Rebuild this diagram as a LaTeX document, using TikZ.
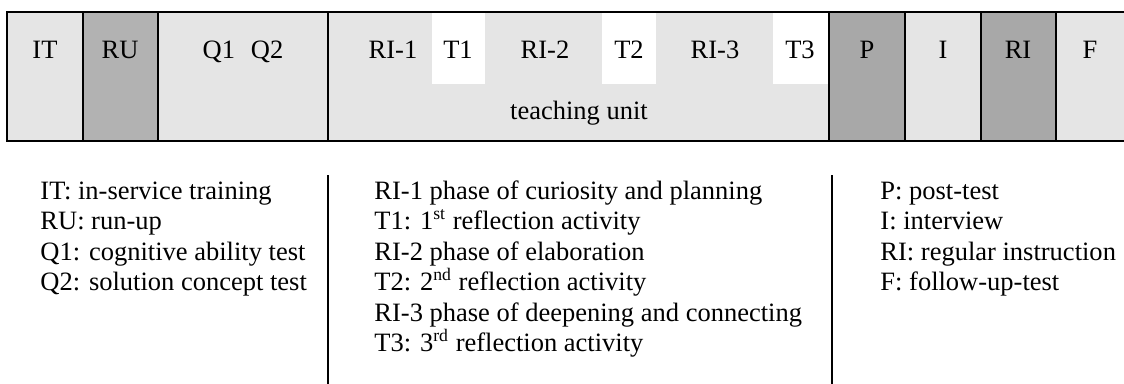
\documentclass[tikz,border=0pt]{standalone}
\usepackage{fontspec}
\setmainfont{Liberation Serif}

\definecolor{lightcell}{gray}{0.90}
\definecolor{rucell}{gray}{0.70}
\definecolor{postcell}{gray}{0.66}

\begin{document}
\begin{tikzpicture}[x=0.4528pt,y=0.4528pt,
    border/.style={draw=black,line width=0.9pt},
    cellname/.style={font=\fontsize{12}{14}\selectfont,inner sep=0pt,anchor=base},
    legline/.style={font=\fontsize{12}{14}\selectfont,inner sep=0pt,anchor=base west}]
  \pgfmathsetmacro{\bandtop}{371}
  \pgfmathsetmacro{\bandbot}{242}
  \pgfmathsetmacro{\reflbot}{299}
  \pgfmathsetmacro{\namey}{325}
  \pgfmathsetmacro{\legtop}{184}
  \pgfmathsetmacro{\legstep}{30.5}

  \useasboundingbox (0,0) rectangle (1124,383);

  % Draw cell fills
  \fill[lightcell] (7,\bandbot) rectangle (1130,\bandtop);
  \fill[rucell] (83,\bandbot) rectangle (158,\bandtop);
  \fill[postcell] (829,\bandbot) rectangle (905,\bandtop);
  \fill[postcell] (981,\bandbot) rectangle (1056,\bandtop);

  % Draw reflection boxes
  \foreach \xa/\xb in {432/485,602/656,773/828}
    \fill[white] (\xa,\reflbot) rectangle (\xb,\bandtop);

  % Draw borders
  \draw[border] (7,\bandbot) rectangle (1130,\bandtop);
  \foreach \x in {83,158,328,829,905,981,1056}
    \draw[border] (\x,\bandbot) -- (\x,\bandtop);

  % Draw cell names
  \node[cellname] (it) at (45,\namey) {IT};
  \node[cellname] (ru) at (120,\namey) {RU};
  \node[cellname] (q) at (243,\namey) {Q1\hspace{0.6em}Q2};
  \node[cellname] (ri1) at (393,\namey) {RI-1};
  \node[cellname] (t1) at (458,\namey) {T1};
  \node[cellname] (ri2) at (545,\namey) {RI-2};
  \node[cellname] (t2) at (629,\namey) {T2};
  \node[cellname] (ri3) at (715,\namey) {RI-3};
  \node[cellname] (t3) at (800,\namey) {T3};
  \node[cellname] (post) at (867,\namey) {P};
  \node[cellname] (intv) at (943,\namey) {I};
  \node[cellname] (reg) at (1018,\namey) {RI};
  \node[cellname] (fol) at (1090,\namey) {F};
  \node[cellname] (unit) at (579,264) {teaching unit};

  % Draw legend
  \foreach \txt [count=\i] in {IT: in-service training,RU: run-up,
      Q1: cognitive ability test,Q2: solution concept test}
    \node[legline] (legL\i) at (40,\legtop-\legstep*\i+\legstep) {\txt};
  \foreach \txt [count=\i] in {RI-1 phase of curiosity and planning,
      T1: 1\textsuperscript{st} reflection activity,
      RI-2 phase of elaboration,
      T2: 2\textsuperscript{nd} reflection activity,
      RI-3 phase of deepening and connecting,
      T3: 3\textsuperscript{rd} reflection activity}
    \node[legline] (legM\i) at (374,\legtop-\legstep*\i+\legstep) {\txt};
  \foreach \txt [count=\i] in {P: post-test,I: interview,
      RI: regular instruction,F: follow-up-test}
    \node[legline] (legR\i) at (880,\legtop-\legstep*\i+\legstep) {\txt};

  % Draw legend separators
  \coordinate (sepa) at (328,208);
  \coordinate (sepb) at (832,208);
  \draw[border] (sepa) -- ++(0,-212);
  \draw[border] (sepb) -- ++(0,-212);
\end{tikzpicture}
\end{document}
